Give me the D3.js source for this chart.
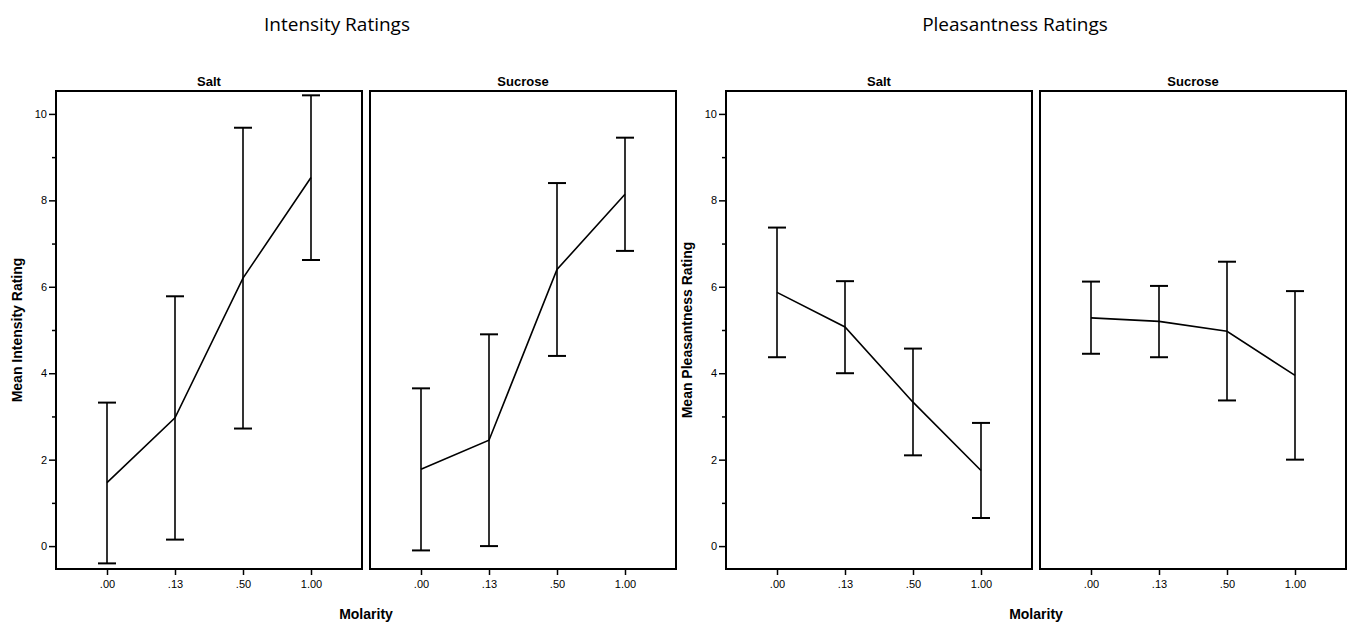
<!doctype html>
<html>
  <head>
    <meta charset="utf-8">
    <script src="https://d3js.org/d3.v7.min.js"></script>
    <style>
      body { margin: 0; background: #fff; }
      text { fill: #000; }
    </style>
  </head>
  <body>
    <script>
    // molarity levels and panel names
    var molarity = [".00", ".13", ".50", "1.00"];
    var solutes = ["Salt", "Sucrose"];

    // Intensity ratings: means and 95% CI bounds
    var intensitySaltMean = [1.47, 2.97, 6.20, 8.53];
    var intensitySaltLow  = [-0.40, 0.15, 2.72, 6.62];
    var intensitySaltHigh = [3.32, 5.78, 9.68, 10.43];
    var intensitySucroseMean = [1.78, 2.45, 6.40, 8.14];
    var intensitySucroseLow  = [-0.10, 0.00, 4.40, 6.83];
    var intensitySucroseHigh = [3.65, 4.90, 8.40, 9.45];

    // Pleasantness ratings
    var pleasantSaltMean = [5.87, 5.07, 3.33, 1.75];
    var pleasantSaltLow  = [4.37, 4.00, 2.10, 0.65];
    var pleasantSaltHigh = [7.37, 6.13, 4.57, 2.85];
    var pleasantSucroseMean = [5.28, 5.20, 4.97, 3.95];
    var pleasantSucroseLow  = [4.45, 4.37, 3.37, 2.00];
    var pleasantSucroseHigh = [6.12, 6.02, 6.58, 5.90];

    var majorTicks = [0, 2, 4, 6, 8, 10];
    var minorTicks = [1, 3, 5, 7, 9];

    var width = 1349, height = 630;
    var plotTop = 91, plotBottom = 569;
    var panelW = 306, gap = 8;

    var svg = d3.select("body").append("svg")
      .attr("width", width)
      .attr("height", height);

    var y = d3.scaleLinear().domain([-0.53, 10.53]).range([plotBottom, plotTop]);

    function rows(mean, lo, hi) {
      return molarity.map(function(m, i) {
        return {m: m, mean: mean[i], lo: lo[i], hi: hi[i]};
      });
    }

    var groups = [
      {title: "Intensity Ratings", titleX: 337, ylabel: "Mean Intensity Rating", left: 56,
       panels: [rows(intensitySaltMean, intensitySaltLow, intensitySaltHigh),
                rows(intensitySucroseMean, intensitySucroseLow, intensitySucroseHigh)]},
      {title: "Pleasantness Ratings", titleX: 1015, ylabel: "Mean Pleasantness Rating", left: 726,
       panels: [rows(pleasantSaltMean, pleasantSaltLow, pleasantSaltHigh),
                rows(pleasantSucroseMean, pleasantSucroseLow, pleasantSucroseHigh)]}
    ];

    groups.forEach(function(grp) {
      var gLeft = grp.left;
      var gRight = gLeft + 2 * panelW + gap;
      var gMid = (gLeft + gRight) / 2;

      svg.append("text")
        .attr("x", grp.titleX).attr("y", 31)
        .attr("text-anchor", "middle")
        .attr("font-family", "Open Sans, sans-serif")
        .attr("font-size", "19px")
        .text(grp.title);

      // y label
      svg.append("text")
        .attr("transform", "translate(" + (gLeft - 34) + "," + ((plotTop + plotBottom) / 2) + ") rotate(-90)")
        .attr("text-anchor", "middle")
        .attr("font-family", "Liberation Sans, Arial, sans-serif")
        .attr("font-weight", "bold")
        .attr("font-size", "14px")
        .text(grp.ylabel);

      // x label
      svg.append("text")
        .attr("x", gMid).attr("y", 619)
        .attr("text-anchor", "middle")
        .attr("font-family", "Liberation Sans, Arial, sans-serif")
        .attr("font-weight", "bold")
        .attr("font-size", "14px")
        .text("Molarity");

      grp.panels.forEach(function(data, p) {
        var x0 = gLeft + p * (panelW + gap);
        var x = d3.scalePoint().domain(molarity).range([x0, x0 + panelW]).padding(0.75);

        svg.append("text")
          .attr("x", x0 + panelW / 2).attr("y", 86)
          .attr("text-anchor", "middle")
          .attr("font-family", "Liberation Sans, Arial, sans-serif")
          .attr("font-weight", "bold")
          .attr("font-size", "13px")
          .text(solutes[p]);

        // x axis
        var xa = svg.append("g")
          .attr("transform", "translate(0," + plotBottom + ")")
          .call(d3.axisBottom(x).tickSize(6).tickPadding(5));
        xa.select(".domain").remove();
        xa.selectAll("line").attr("stroke-width", 1.5);
        xa.selectAll("text")
          .attr("font-family", "Liberation Sans, Arial, sans-serif")
          .attr("font-size", "11px");

        if (p === 0) {
          var ya = svg.append("g")
            .attr("transform", "translate(" + x0 + ",0)")
            .call(d3.axisLeft(y).tickValues(majorTicks).tickSize(7).tickPadding(2));
          ya.select(".domain").remove();
          ya.selectAll("line").attr("stroke-width", 1.5);
          ya.selectAll("text")
            .attr("font-family", "Liberation Sans, Arial, sans-serif")
            .attr("font-size", "11px");
          var ym = svg.append("g")
            .attr("transform", "translate(" + x0 + ",0)")
            .call(d3.axisLeft(y).tickValues(minorTicks).tickSize(4).tickFormat(""));
          ym.select(".domain").remove();
          ym.selectAll("line").attr("stroke-width", 1.5);
        }

        // error bars
        var eb = svg.append("g").attr("stroke", "#000").attr("stroke-width", 1.6);
        data.forEach(function(d) {
          var cx = x(d.m);
          eb.append("line").attr("x1", cx).attr("x2", cx).attr("y1", y(d.lo)).attr("y2", y(d.hi));
          eb.append("line").attr("x1", cx - 9).attr("x2", cx + 9).attr("y1", y(d.lo)).attr("y2", y(d.lo)).attr("stroke-width", 2);
          eb.append("line").attr("x1", cx - 9).attr("x2", cx + 9).attr("y1", y(d.hi)).attr("y2", y(d.hi)).attr("stroke-width", 2);
        });

        svg.append("path")
          .datum(data)
          .attr("fill", "none")
          .attr("stroke", "#000")
          .attr("stroke-width", 1.6)
          .attr("d", d3.line().x(function(d) { return x(d.m); }).y(function(d) { return y(d.mean); }));

        // panel border
        svg.append("rect")
          .attr("x", x0).attr("y", plotTop)
          .attr("width", panelW).attr("height", plotBottom - plotTop)
          .attr("fill", "none")
          .attr("stroke", "#000")
          .attr("stroke-width", 2);
      });
    });
    </script>
  </body>
</html>
